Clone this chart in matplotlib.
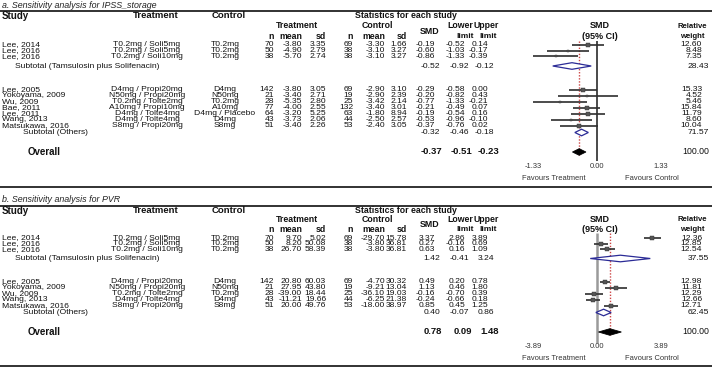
import matplotlib
matplotlib.use("Agg")
import matplotlib.pyplot as plt
from matplotlib.patches import Polygon
from matplotlib.lines import Line2D
import matplotlib.transforms as mtransforms

# ---------------- data: panel a (IPSS_storage) ----------------
title_a = "a. Sensitivity analysis for IPSS_storage"
studies_a = ["Lee, 2014", "Lee, 2016", "Lee, 2016", "Lee, 2005", "Yokoyama, 2009", "Wu, 2009",
             "Bae, 2011", "Lee, 2011", "Wang, 2013", "Matsukawa, 2016"]
treat_a = ["T0.2mg / Soli5mg", "T0.2mg / Soli5mg", "T0.2mg / Soli10mg", "D4mg / Propi20mg",
           "N50mg / Propi20mg", "T0.2mg / Tolte2mg", "A10mg / Propi10mg", "D4mg / Tolte4mg",
           "D4mg / Tolte4mg", "S8mg / Propi20mg"]
control_a = ["T0.2mg", "T0.2mg", "T0.2mg", "D4mg", "N50mg", "T0.2mg", "A10mg", "D4mg / Placebo",
             "D4mg", "S8mg"]
tn_a = [70, 50, 38, 142, 21, 28, 77, 64, 43, 51]
tmean_a = [-3.80, -4.90, -5.70, -3.80, -3.40, -5.35, -4.00, -3.20, -3.73, -3.40]
tsd_a = [3.35, 2.79, 2.74, 3.05, 2.71, 2.80, 2.55, 5.25, 2.06, 2.26]
cn_a = [69, 38, 38, 69, 19, 25, 132, 63, 44, 53]
cmean_a = [-3.30, -3.10, -3.10, -2.90, -2.90, -3.42, -3.40, -1.80, -2.50, -2.40]
csd_a = [1.66, 3.27, 3.27, 3.10, 2.39, 2.14, 3.01, 8.94, 2.57, 3.05]
smd_a = [-0.19, -0.60, -0.86, -0.29, -0.20, -0.77, -0.21, -0.19, -0.53, -0.37]
low_a = [-0.52, -1.03, -1.33, -0.58, -0.82, -1.33, -0.49, -0.54, -0.96, -0.76]
up_a = [0.14, -0.17, -0.39, 0.00, 0.43, -0.21, 0.07, 0.16, -0.10, 0.02]
wt_a = [12.60, 8.48, 7.35, 15.33, 4.52, 5.46, 15.84, 11.79, 8.60, 10.04]
sub_names = ["Subtotal (Tamsulosin plus Solifenacin)", "Subtotal (Others)"]
sub_smd_a = [-0.52, -0.32]
sub_low_a = [-0.92, -0.46]
sub_up_a = [-0.12, -0.18]
sub_wt_a = [28.43, 71.57]
all_a = [-0.37, -0.51, -0.23, 100.00]
tick_a = 1.33

# ---------------- data: panel b (PVR) ----------------
title_b = "b. Sensitivity analysis for PVR"
studies_b = ["Lee, 2014", "Lee, 2016", "Lee, 2016", "Lee, 2005", "Yokoyama, 2009", "Wu, 2009",
             "Wang, 2013", "Matsukawa, 2016"]
treat_b = ["T0.2mg / Soli5mg", "T0.2mg / Soli5mg", "T0.2mg / Soli10mg", "D4mg / Propi20mg",
           "N50mg / Propi20mg", "T0.2mg / Tolte2mg", "D4mg / Tolte4mg", "S8mg / Propi20mg"]
control_b = ["T0.2mg", "T0.2mg", "T0.2mg", "D4mg", "N50mg", "T0.2mg", "D4mg", "S8mg"]
tn_b = [70, 50, 38, 142, 21, 28, 43, 51]
tmean_b = [9.70, 8.20, 26.70, 20.80, 27.95, -39.00, -11.21, 20.00]
tsd_b = [5.02, 50.08, 58.39, 60.03, 43.80, 18.44, 19.66, 49.76]
cn_b = [69, 38, 38, 69, 19, 25, 44, 53]
cmean_b = [-29.70, -3.80, -3.80, -4.70, -9.21, -36.10, -6.25, -18.00]
csd_b = [15.78, 36.81, 36.81, 30.32, 13.04, 19.03, 21.38, 38.97]
smd_b = [3.37, 0.27, 0.63, 0.49, 1.13, -0.16, -0.24, 0.85]
low_b = [2.86, -0.16, 0.16, 0.20, 0.46, -0.70, -0.66, 0.45]
up_b = [3.89, 0.69, 1.09, 0.78, 1.80, 0.39, 0.18, 1.25]
wt_b = [12.36, 12.85, 12.54, 12.98, 11.81, 12.29, 12.66, 12.71]
sub_smd_b = [1.42, 0.40]
sub_low_b = [-0.41, -0.07]
sub_up_b = [3.24, 0.86]
sub_wt_b = [37.55, 62.45]
all_b = [0.78, 0.09, 1.48, 100.00]
tick_b = 3.89

# ---------------- style ----------------
W, H = 716, 368
REG = ['Liberation Sans', 'DejaVu Sans']
NUM = ['Liberation Sans Narrow', 'Liberation Sans', 'DejaVu Sans']
FS = 6.1
TXT = '#111111'

fig = plt.figure(figsize=(W / 100, H / 100), dpi=100)
base = fig.add_axes([0, 0, 1, 1])
base.set_xlim(0, W)
base.set_ylim(H, 0)
base.set_axis_off()


def t(x, y, s, ha='left', fs=FS, weight='normal', fam=REG, style='normal', color=TXT,
      transform=None, **kw):
    if transform is None:
        transform = base.transData
    base.text(x, y, s, ha=ha, va='center', fontsize=fs, fontweight=weight,
              family=fam, style=style, color=color, transform=transform, **kw)


def panel(lay, title, studies, treat, control, tn, tmean, tsd, cn, cmean, csd,
          smd, low, up, wt, s_smd, s_low, s_up, s_wt, overall, tick, zline):
    t(2, lay['title'], title, fs=6.4, style='italic', color='#222')
    base.plot([0, 712], [lay['rule'], lay['rule']], color='#222', lw=1.3, solid_capstyle='butt')
    base.plot([0, 712], [lay['bottom'], lay['bottom']], color='#222', lw=1.3, solid_capstyle='butt')
    t(2, lay['h1'], "Study", fs=7, weight='bold')
    t(156, lay['h1'], "Treatment", ha='center', fs=6.8, weight='bold')
    t(212, lay['h1'], "Control", fs=6.8, weight='bold')
    t(355, lay['h1'], "Statistics for each study", fs=6.3, weight='bold')
    t(297, lay['h2'], "Treatment", ha='center', fs=6.3, weight='bold')
    t(377, lay['h2'], "Control", ha='center', fs=6.3, weight='bold')
    t(430, lay['hs'], "SMD", ha='center', fs=6.3, weight='bold')
    t(460, lay['h2'], "Lower", ha='center', fs=6.3, weight='bold')
    t(486, lay['h2'], "Upper", ha='center', fs=6.3, weight='bold')
    t(465, lay['h3'], "limit", ha='center', fs=6.0, weight='bold')
    t(488, lay['h3'], "limit", ha='center', fs=6.0, weight='bold')
    for xr, lab in [(274, "n"), (302, "mean"), (326, "sd"), (353, "n"), (385, "mean"), (407, "sd")]:
        t(xr, lay['h3'], lab, ha='right', fs=6.3, weight='bold')
    t(600, lay['h2'], "SMD", ha='center', fs=6.5, weight='bold')
    t(600, lay['h3'], "(95% CI)", ha='center', fs=6.5, weight='bold')
    t(692, lay['h2'], "Relative", ha='center', fs=5.6, weight='bold')
    t(692, lay['h3'], "weight", ha='center', fs=5.6, weight='bold')

    rows = lay['rows']
    for i, y in enumerate(rows):
        t(2, y, studies[i])
        t(147, y, treat[i], ha='center')
        t(225, y, control[i], ha='center')
        t(274, y, f"{tn[i]}", ha='right', fam=NUM)
        t(302, y, f"{tmean[i]:.2f}", ha='right', fam=NUM)
        t(326, y, f"{tsd[i]:.2f}", ha='right', fam=NUM)
        t(353, y, f"{cn[i]}", ha='right', fam=NUM)
        t(385, y, f"{cmean[i]:.2f}", ha='right', fam=NUM)
        t(407, y, f"{csd[i]:.2f}", ha='right', fam=NUM)
        t(435, y, f"{smd[i]:.2f}", ha='right', fam=NUM)
        t(465, y, f"{low[i]:.2f}", ha='right', fam=NUM)
        t(488, y, f"{up[i]:.2f}", ha='right', fam=NUM)
        t(702, y, f"{wt[i]:.2f}", ha='right', fam=NUM)
    for g, y in enumerate(lay['subs']):
        t(15 if g == 0 else 23, y, sub_names[g])
        t(440, y, f"{s_smd[g]:.2f}", ha='right')
        t(469, y, f"{s_low[g]:.2f}", ha='right')
        t(494, y, f"{s_up[g]:.2f}", ha='right')
        t(709, y, f"{s_wt[g]:.2f}", ha='right')
    yo = lay['overall']
    t(28, yo, "Overall", fs=7, weight='bold')
    t(442, yo, f"{overall[0]:.2f}", ha='right', fs=6.8, weight='bold')
    t(472, yo, f"{overall[1]:.2f}", ha='right', fs=6.8, weight='bold')
    t(499, yo, f"{overall[2]:.2f}", ha='right', fs=6.8, weight='bold')
    t(709, yo, f"{overall[3]:.2f}", ha='right', fs=6.3)

    # forest scale: SMD units -> table pixels (zero at x=597, axis spans +-1.5*tick over 96 px)
    R = tick * 1.5
    zero_px, half_px = 597.0, 96.0
    ftr = mtransforms.Affine2D().scale(half_px / R, 1.0).translate(zero_px, 0.0) + base.transData

    base.add_line(Line2D([0.0, 0.0], [zline[0], zline[1]], color=zline[2], lw=zline[3],
                         zorder=1, transform=ftr, solid_capstyle='butt'))
    base.add_line(Line2D([overall[0], overall[0]], [zline[0], yo + 3], color='#cc4444', lw=1.0,
                         ls=(0, (1, 1.2)), zorder=1, transform=ftr))
    for i, y in enumerate(rows):
        base.add_line(Line2D([low[i], up[i]], [y, y], color='#2e2e2e', lw=1.2, zorder=2,
                             transform=ftr, solid_capstyle='butt'))
        base.add_line(Line2D([smd[i]], [y], marker='s', ms=1.3 + wt[i] * 0.09, color='#555555',
                             mec='#333333', mew=0.3, zorder=3, linestyle='none', transform=ftr))
    hh = 3.3
    for g, y in enumerate(lay['subs']):
        base.add_patch(Polygon([(s_low[g], y), (s_smd[g], y - hh), (s_up[g], y), (s_smd[g], y + hh)],
                               closed=True, facecolor='white', edgecolor='#2b2b96', lw=0.9,
                               zorder=4, transform=ftr))
    base.add_patch(Polygon([(overall[1], yo), (overall[0], yo - hh), (overall[2], yo),
                            (overall[0], yo + hh)], closed=True, facecolor='black',
                           edgecolor='black', lw=0.6, zorder=4, transform=ftr))
    for v in (-tick, 0.0, tick):
        t(v, lay['ticks'], f"{v:.2f}", ha='center', fs=5.4, color='#333', transform=ftr)
    t(-0.45 * R, lay['fav'], "Favours Treatment", ha='center', fs=5.4, color='#333', transform=ftr)
    t(0.575 * R, lay['fav'], "Favours Control", ha='center', fs=5.4, color='#333', transform=ftr)


step = 6.0
lay_a = dict(title=5, rule=11, h1=16, h2=26, hs=31, h3=36.5, subs=[66, 132.5], overall=152,
             ticks=167, fav=179, bottom=187,
             rows=[45, 50.6, 56.2] + [89.5 + step * k for k in range(7)])
lay_b = dict(title=199, rule=205.5, h1=210.5, h2=219.5, hs=224.5, h3=229.5, subs=[258.5, 312.5],
             overall=332, ticks=347, fav=359, bottom=366,
             rows=[238, 243.6, 249.2] + [281.5 + step * k for k in range(5)])

panel(lay_a, title_a, studies_a, treat_a, control_a, tn_a, tmean_a, tsd_a, cn_a, cmean_a,
      csd_a, smd_a, low_a, up_a, wt_a, sub_smd_a, sub_low_a, sub_up_a, sub_wt_a, all_a,
      tick_a, (41, 161, '#4a4a4a', 1.4))
panel(lay_b, title_b, studies_b, treat_b, control_b, tn_b, tmean_b, tsd_b, cn_b, cmean_b,
      csd_b, smd_b, low_b, up_b, wt_b, sub_smd_b, sub_low_b, sub_up_b, sub_wt_b, all_b,
      tick_b, (233, 343, '#9a9a9a', 1.8))

fig.savefig("out.png", dpi=100)
